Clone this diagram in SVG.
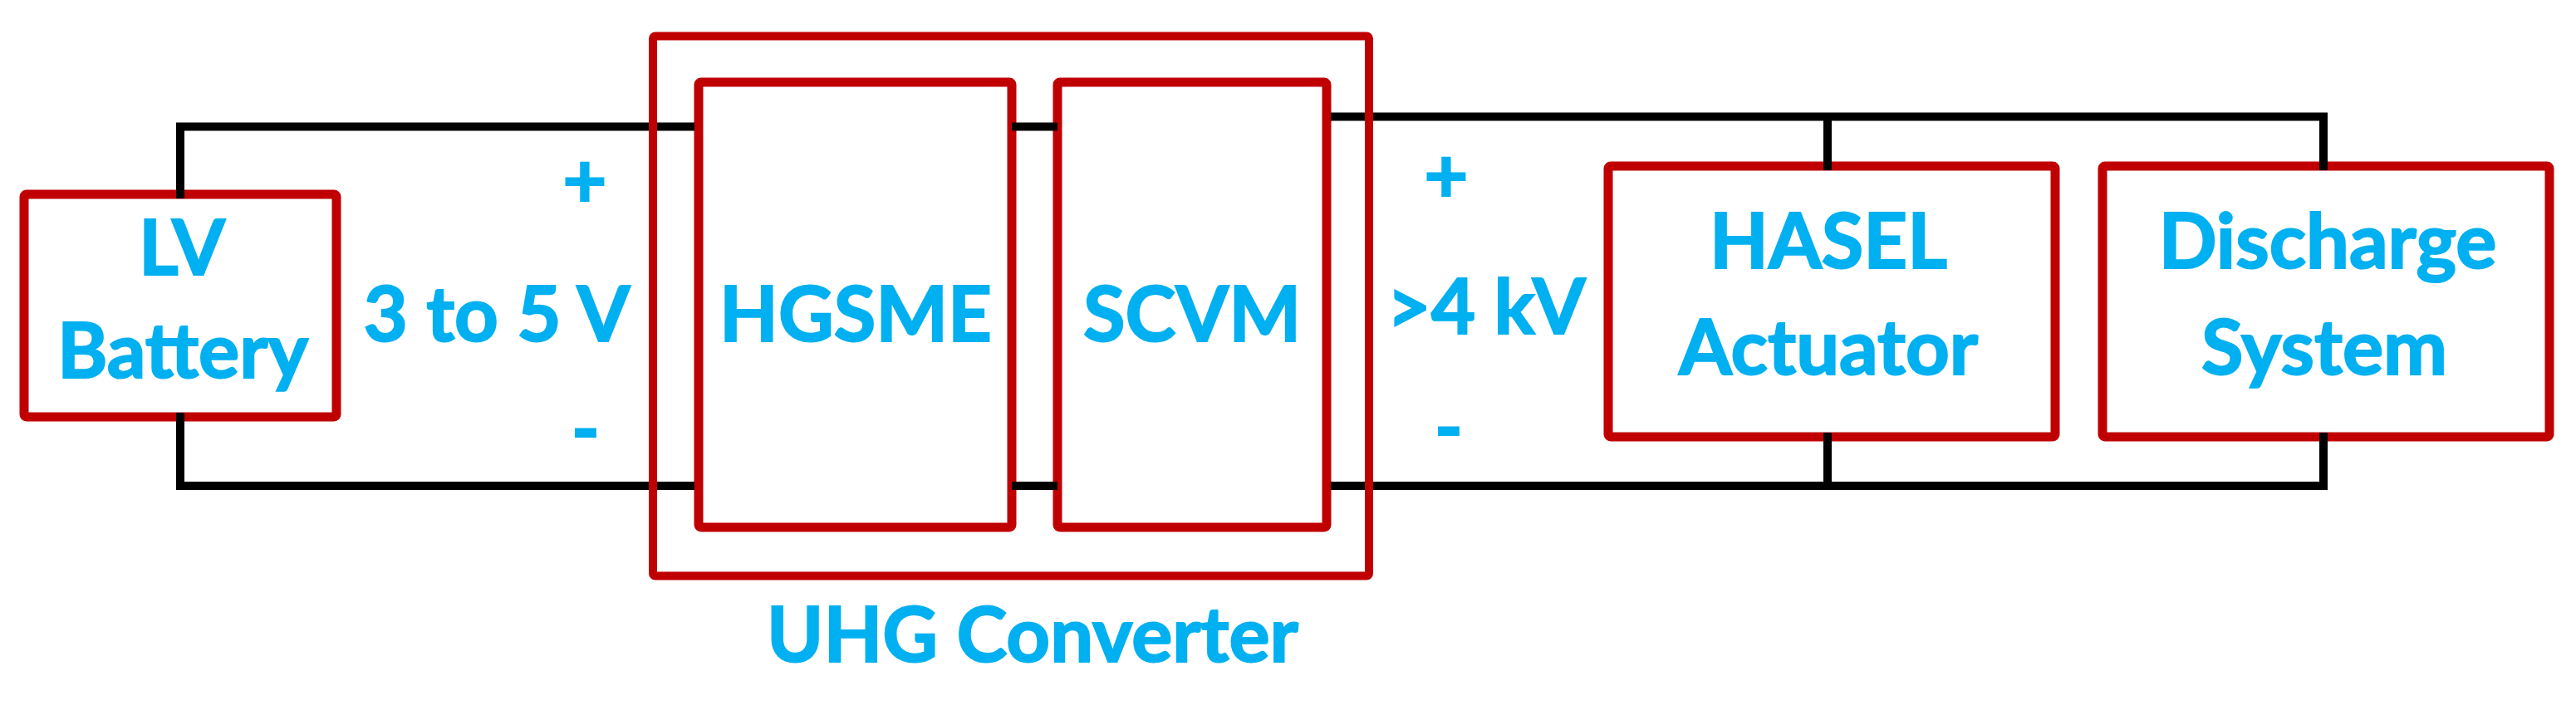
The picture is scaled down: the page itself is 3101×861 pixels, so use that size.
<svg xmlns="http://www.w3.org/2000/svg" width="3101" height="861" viewBox="0 0 3101 861">
<style>
.box{fill:none;stroke:#C00000;stroke-width:11;stroke-linejoin:round}
.outer{fill:none;stroke:#C00000;stroke-width:10}
.w{fill:none;stroke:#000;stroke-width:10;stroke-linejoin:miter;stroke-linecap:butt}
.t{font-family:Lato,'Open Sans',sans-serif;font-weight:700;font-size:92px;fill:#00B0F0;stroke:#00B0F0;stroke-width:2;text-anchor:middle}
</style>
<rect width="3101" height="861" fill="#fff"/>
<g id="lv-battery">
<rect class="box" x="29" y="234" width="376" height="268" rx="3"/>
<text class="t" x="219" y="331">LV</text>
<text class="t" x="220" y="455">Battery</text>
</g>
<g id="hgsme">
<rect class="box" x="841" y="99" width="377" height="536" rx="3"/>
<text class="t" x="1030" y="411">HGSME</text>
</g>
<g id="scvm">
<rect class="box" x="1273" y="99" width="324" height="536" rx="3"/>
<text class="t" x="1435" y="411">SCVM</text>
</g>
<g id="hasel-actuator">
<rect class="box" x="1936" y="200" width="538" height="326" rx="3"/>
<text class="t" x="2201" y="323">HASEL</text>
<text class="t" x="2201" y="451">Actuator</text>
</g>
<g id="discharge-system">
<rect class="box" x="2531" y="200" width="538" height="326" rx="3"/>
<text class="t" x="2802" y="323">Discharge</text>
<text class="t" x="2798" y="451">System</text>
</g>
<g id="connectors">
<polyline class="w" points="217,239 217,152.5 836,152.5"/>
<polyline class="w" points="217,497 217,585 836,585"/>
<line class="w" x1="1218" y1="152.5" x2="1273" y2="152.5"/>
<line class="w" x1="1218" y1="585" x2="1273" y2="585"/>
<polyline class="w" points="1602,140.5 2797,140.5 2797,205"/>
<line class="w" x1="2200" y1="140.5" x2="2200" y2="205"/>
<polyline class="w" points="1602,585 2797,585 2797,521"/>
<line class="w" x1="2200" y1="585" x2="2200" y2="521"/>
</g>
<g id="labels">
<text class="t" x="704" y="250">+</text>
<text class="t" x="598" y="411">3 to 5 V</text>
<text class="t" x="705" y="549">-</text>
<text class="t" x="1741" y="244">+</text>
<text class="t" x="1789" y="402">&gt;4 kV</text>
<text class="t" x="1744" y="547">-</text>
</g>
<g id="uhg-converter">
<rect class="outer" x="786" y="43.5" width="862" height="650" rx="3"/>
<text class="t" x="1243" y="797">UHG Converter</text>
</g>
</svg>
